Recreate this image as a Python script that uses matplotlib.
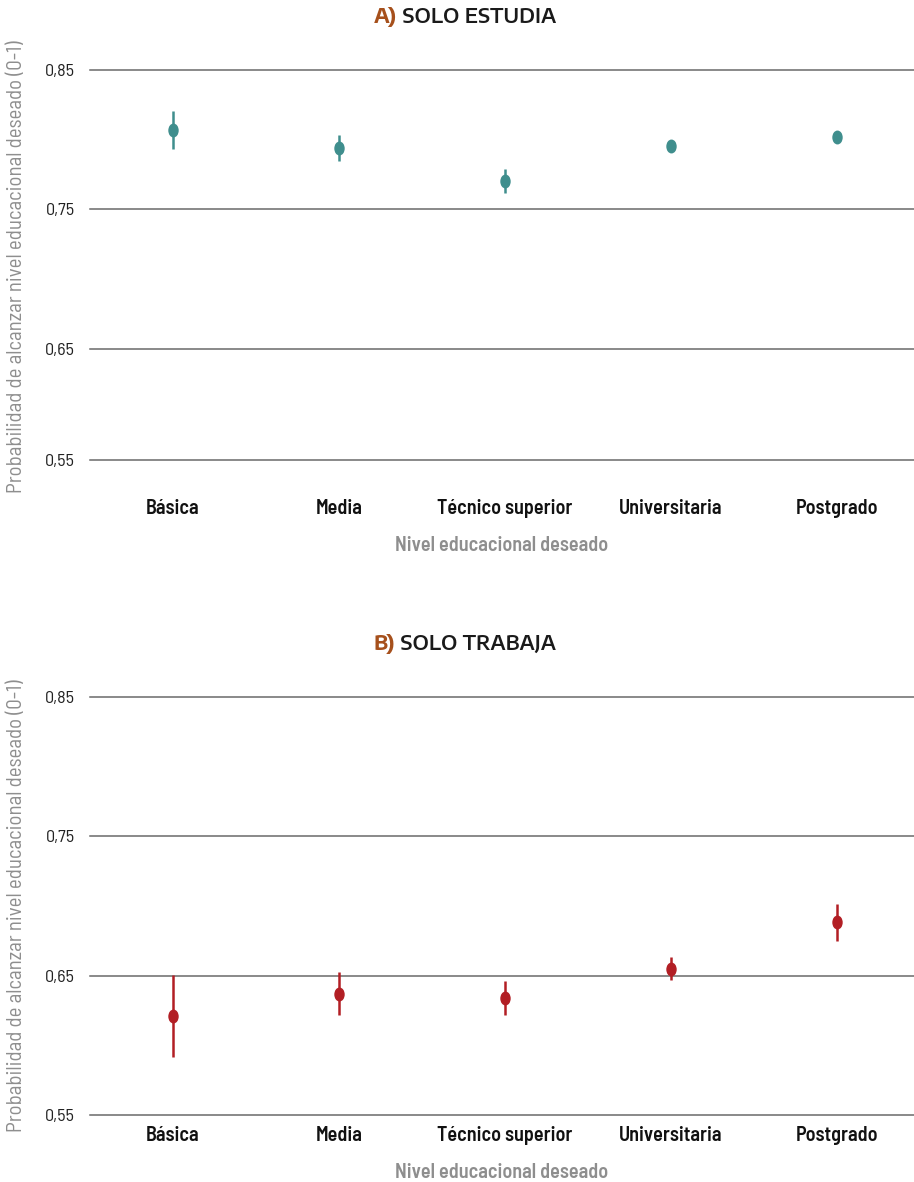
import matplotlib
matplotlib.use("Agg")
import matplotlib.pyplot as plt
from matplotlib.path import Path
from matplotlib.markers import MarkerStyle
from matplotlib.transforms import Affine2D

plt.rcParams['font.family'] = ['Barlow Semi Condensed', 'DejaVu Sans']

niveles = ["Básica", "Media", "Técnico superior", "Universitaria", "Postgrado"]

# A) solo estudia
est_val = [0.807, 0.794, 0.7705, 0.7955, 0.802]
est_lo = [0.7935, 0.785, 0.762, 0.793, 0.7995]
est_hi = [0.8205, 0.803, 0.779, 0.798, 0.8045]

# B) solo trabaja
trab_val = [0.6207, 0.6368, 0.6337, 0.6548, 0.6883]
trab_lo = [0.5917, 0.6217, 0.6217, 0.6469, 0.6752]
trab_hi = [0.6505, 0.6524, 0.6459, 0.6632, 0.7016]

# el panel A tiene la linea inferior rotulada 0,55 pero ubicada en ~0,57
ticks_a = [0.57, 0.65, 0.75, 0.85]
ticks_b = [0.55, 0.65, 0.75, 0.85]
tick_labels = ["0,55", "0,65", "0,75", "0,85"]

teal = "#3f8e8d"
rojo = "#b21e24"
naranja = "#a6501c"
gris = "#8e8e8e"
grid_c = "#6a6a6a"

W, H = 914, 1182
fig = plt.figure(figsize=(W / 100, H / 100), dpi=100)

elipse = MarkerStyle(Path.unit_circle().transformed(Affine2D().scale(0.72, 1.0)))


def panel(top_px, valores, lo, hi, color, ticks, label_y):
    ax = fig.add_axes([90 / W, 1 - (top_px + 418) / H, (W - 90) / W, 418 / H])
    x = list(range(len(niveles)))
    err = [[v - l for v, l in zip(valores, lo)], [h - v for v, h in zip(valores, hi)]]
    ax.errorbar(x, valores, yerr=err, fmt="none", ecolor=color, elinewidth=1.8,
                capsize=0, zorder=3)
    ax.plot(x, valores, ls="none", marker=elipse, markersize=9, color=color, zorder=4)
    ax.set_xlim(-0.5, (W - 173) / 166)
    ax.set_ylim(0.55, 0.85)
    ax.set_yticks(ticks)
    ax.set_yticklabels(tick_labels)
    ax.set_xticks(x)
    ax.set_xticklabels(niveles, fontsize=14.5, fontweight="semibold", color="#111111")
    for s in ax.spines.values():
        s.set_visible(False)
    ax.tick_params(axis="y", length=0, pad=11, labelsize=13, labelcolor="#222222")
    ax.tick_params(axis="x", length=0, pad=8)
    ax.yaxis.grid(True, color=grid_c, linewidth=1.1)
    for g in ax.get_ygridlines():
        g.set_clip_on(False)
    ax.set_axisbelow(True)
    ax.set_xlabel("Nivel educacional deseado", fontsize=14.5, fontweight="semibold",
                  color=gris, labelpad=13)
    ax.set_ylabel("Probabilidad de alcanzar nivel educacional deseado (0-1)",
                  fontsize=15, color=gris)
    ax.yaxis.set_label_coords(-64 / 824, label_y)
    return ax


def titulo(y_px, letra, texto):
    r = fig.canvas.get_renderer()
    y = 1 - y_px / H
    fam = ["Encode Sans Semi Expanded", "DejaVu Sans"]
    t1 = fig.text(0, y, letra, fontsize=14.5, fontweight="bold", color=naranja,
                  family=fam, va="center")
    t2 = fig.text(0, y, " " + texto, fontsize=14.5, fontweight="semibold", color="#1a1a1a",
                  family=fam, va="center")
    w1 = t1.get_window_extent(r).width
    w2 = t2.get_window_extent(r).width
    x0 = 465 - (w1 + w2) / 2
    t1.set_x(x0 / W)
    t2.set_x((x0 + w1) / W)


panel(70, est_val, est_lo, est_hi, teal, ticks_a, (488 - 267) / 418)
panel(697, trab_val, trab_lo, trab_hi, rojo, ticks_b, 0.5)

titulo(17, "A)", "SOLO ESTUDIA")
titulo(644, "B)", "SOLO TRABAJA")

fig.savefig("out.png", dpi=100)
